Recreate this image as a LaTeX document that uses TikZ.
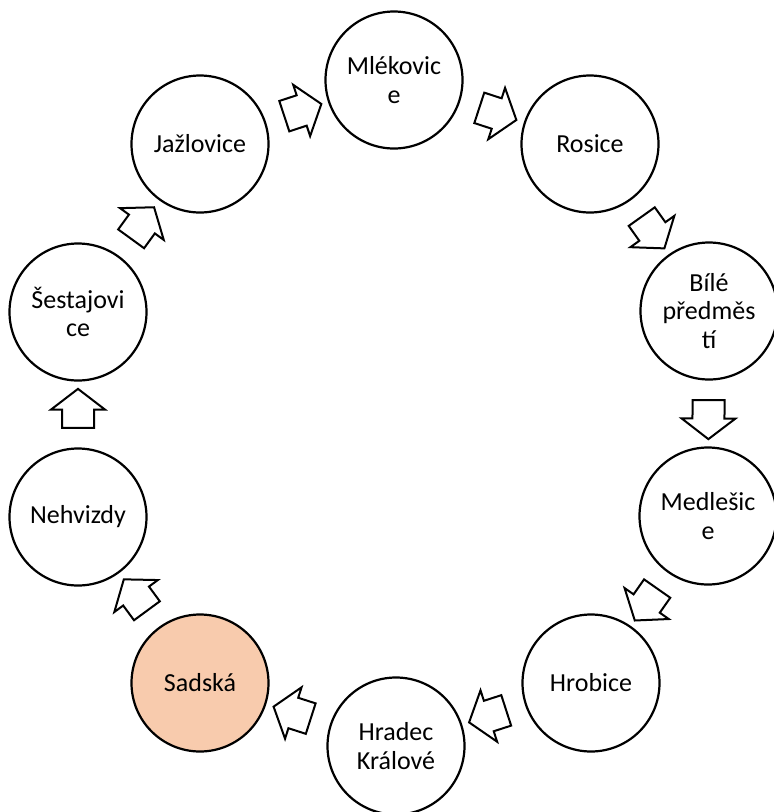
\documentclass[tikz,border=0pt]{standalone}
\usepackage{fontspec}
\setmainfont{Carlito}
\usetikzlibrary{shapes.arrows,calc}
\definecolor{peach}{HTML}{F8CBAD}
\begin{document}
\begin{tikzpicture}[x=1pt,y=-1pt,
		town/.style={circle,draw=black,line width=2.2pt,fill=white,minimum size=137pt,inner sep=0pt,align=center,font=\fontsize{26}{28.5}\selectfont},
		blockarrow/.style={single arrow,draw=black,line width=2pt,fill=white,minimum height=39pt,minimum width=52pt,single arrow head extend=11pt,single arrow tip angle=105,inner xsep=0pt,inner ysep=15pt}]
		\useasboundingbox (0,0) rectangle (774,812);

		\node[town] (mlek) at (394,80) {Mlékovic\\e};
		\node[town] (ros) at (590,144) {Rosice};
		\node[town] (bile) at (709,311) {Bílé\\předměs\\tí};
		\node[town] (medl) at (708,516) {Medlešic\\e};
		\node[town] (hrob) at (591,683) {Hrobice};
		\node[town] (hk) at (396,746) {Hradec\\Králové};
		\node[town,fill=peach] (sad) at (200,683) {Sadská};
		\node[town] (neh) at (78,517) {Nehvizdy};
		\node[town] (ses) at (78,312) {Šestajovi\\ce};
		\node[town] (jaz) at (200,144) {Jažlovice};

		\foreach \a/\b in {jaz/mlek,mlek/ros,ros/bile,bile/medl,medl/hrob,hrob/hk,hk/sad,sad/neh,neh/ses,ses/jaz}
			\path let \p1=($(\b)-(\a)$), \n1={atan2(\y1,\x1)} in
				node[blockarrow,rotate=\n1] (\a-\b) at ($(\a)!0.5!(\b)$) {};
	\end{tikzpicture}
\end{document}
